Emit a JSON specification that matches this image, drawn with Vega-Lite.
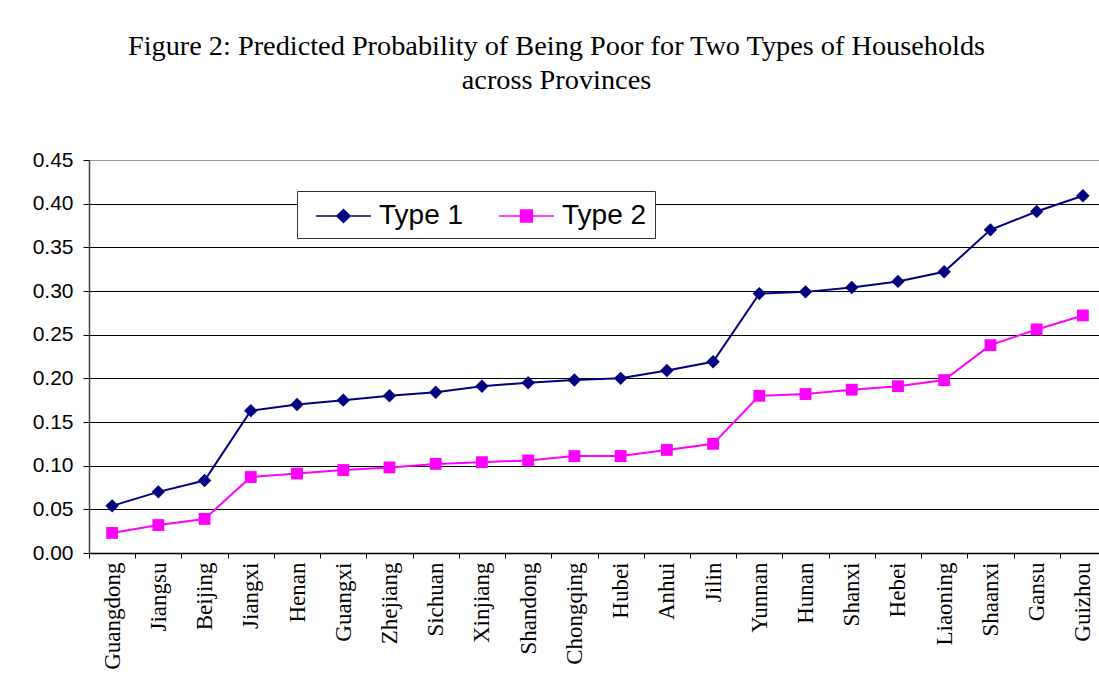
{
  "$schema": "https://vega.github.io/schema/vega-lite/v6.json",
  "autosize": {"type": "none"},
  "padding": {"left": 89, "top": 160, "right": 0, "bottom": 135},
  "width": 1017,
  "height": 393,
  "background": "white",
  "title": {
    "text": ["Figure 2: Predicted Probability of Being Poor for Two Types of Households", "across Provinces"],
    "font": "Liberation Serif",
    "fontSize": 28.3,
    "fontWeight": "normal",
    "color": "black",
    "lineHeight": 34,
    "anchor": "middle",
    "frame": "group",
    "dx": -41,
    "baseline": "alphabetic",
    "offset": 32
  },
  "data": {
    "values": [
      {"province": "Guangdong", "type": "Type 1", "p": 0.054},
      {"province": "Jiangsu", "type": "Type 1", "p": 0.070},
      {"province": "Beijing", "type": "Type 1", "p": 0.083},
      {"province": "Jiangxi", "type": "Type 1", "p": 0.163},
      {"province": "Henan", "type": "Type 1", "p": 0.170},
      {"province": "Guangxi", "type": "Type 1", "p": 0.175},
      {"province": "Zhejiang", "type": "Type 1", "p": 0.180},
      {"province": "Sichuan", "type": "Type 1", "p": 0.184},
      {"province": "Xinjiang", "type": "Type 1", "p": 0.191},
      {"province": "Shandong", "type": "Type 1", "p": 0.195},
      {"province": "Chongqing", "type": "Type 1", "p": 0.198},
      {"province": "Hubei", "type": "Type 1", "p": 0.200},
      {"province": "Anhui", "type": "Type 1", "p": 0.209},
      {"province": "Jilin", "type": "Type 1", "p": 0.219},
      {"province": "Yunnan", "type": "Type 1", "p": 0.297},
      {"province": "Hunan", "type": "Type 1", "p": 0.299},
      {"province": "Shanxi", "type": "Type 1", "p": 0.304},
      {"province": "Hebei", "type": "Type 1", "p": 0.311},
      {"province": "Liaoning", "type": "Type 1", "p": 0.322},
      {"province": "Shaanxi", "type": "Type 1", "p": 0.370},
      {"province": "Gansu", "type": "Type 1", "p": 0.391},
      {"province": "Guizhou", "type": "Type 1", "p": 0.409},
      {"province": "Guangdong", "type": "Type 2", "p": 0.023},
      {"province": "Jiangsu", "type": "Type 2", "p": 0.032},
      {"province": "Beijing", "type": "Type 2", "p": 0.039},
      {"province": "Jiangxi", "type": "Type 2", "p": 0.087},
      {"province": "Henan", "type": "Type 2", "p": 0.091},
      {"province": "Guangxi", "type": "Type 2", "p": 0.095},
      {"province": "Zhejiang", "type": "Type 2", "p": 0.098},
      {"province": "Sichuan", "type": "Type 2", "p": 0.102},
      {"province": "Xinjiang", "type": "Type 2", "p": 0.104},
      {"province": "Shandong", "type": "Type 2", "p": 0.106},
      {"province": "Chongqing", "type": "Type 2", "p": 0.111},
      {"province": "Hubei", "type": "Type 2", "p": 0.111},
      {"province": "Anhui", "type": "Type 2", "p": 0.118},
      {"province": "Jilin", "type": "Type 2", "p": 0.125},
      {"province": "Yunnan", "type": "Type 2", "p": 0.180},
      {"province": "Hunan", "type": "Type 2", "p": 0.182},
      {"province": "Shanxi", "type": "Type 2", "p": 0.187},
      {"province": "Hebei", "type": "Type 2", "p": 0.191},
      {"province": "Liaoning", "type": "Type 2", "p": 0.198},
      {"province": "Shaanxi", "type": "Type 2", "p": 0.238},
      {"province": "Gansu", "type": "Type 2", "p": 0.256},
      {"province": "Guizhou", "type": "Type 2", "p": 0.272}
    ]
  },
  "encoding": {
    "x": {
      "field": "province",
      "type": "nominal",
      "sort": null,
      "scale": {"paddingInner": 0, "paddingOuter": 0},
      "axis": {
        "title": null,
        "labelAngle": -90,
        "labelFont": "Liberation Serif",
        "labelFontSize": 23,
        "labelColor": "black",
        "labelPadding": 4,
        "tickBand": "extent",
        "tickSize": 5,
        "tickColor": "black",
        "domainColor": "black",
        "domainWidth": 1.5,
        "grid": false
      }
    },
    "y": {
      "field": "p",
      "type": "quantitative",
      "scale": {"domain": [0, 0.45], "nice": false},
      "axis": {
        "title": null,
        "values": [0, 0.05, 0.1, 0.15, 0.2, 0.25, 0.3, 0.35, 0.4, 0.45],
        "format": ".2f",
        "labelFont": "Liberation Sans",
        "labelFontSize": 21,
        "labelColor": "black",
        "labelPadding": 10,
        "tickSize": 6,
        "tickColor": "black",
        "domainColor": "#404040",
        "domainWidth": 1.5,
        "grid": true,
        "gridColor": {"condition": {"test": "datum.value > 0.449", "value": "#999999"}, "value": "black"},
        "gridWidth": 1.2,
        "gridOpacity": 1
      }
    },
    "color": {
      "field": "type",
      "type": "nominal",
      "scale": {"domain": ["Type 1", "Type 2"], "range": ["#000080", "#FF00FF"]},
      "legend": {
        "title": null,
        "orient": "none",
        "legendX": 208,
        "legendY": 31,
        "direction": "horizontal",
        "strokeColor": "#333333",
        "fillColor": "white",
        "padding": 8,
        "labelFont": "Liberation Sans",
        "labelFontSize": 28,
        "labelColor": "black",
        "symbolSize": 1024,
        "labelOffset": 40,
        "columnPadding": 24,
        "encode": {
          "symbols": {
            "update": {
              "shape": {"signal": "datum.value === 'Type 1' ? 'M-0.38,0H3.06M1.34,-0.41L1.75,0L1.34,0.41L0.93,0Z' : 'M-0.38,0H3.06M0.97,-0.37H1.71V0.37H0.97Z'"},
              "fill": {"signal": "scale('color', datum.value)"},
              "stroke": {"signal": "scale('color', datum.value)"},
              "strokeWidth": {"value": 1.5},
              "opacity": {"value": 1},
              "fillOpacity": {"value": 1},
              "strokeOpacity": {"value": 1}
            }
          }
        }
      }
    }
  },
  "layer": [
    {"mark": {"type": "line", "strokeWidth": 2}},
    {
      "transform": [{"filter": "datum.type === 'Type 1'"}],
      "mark": {"type": "point", "filled": true, "opacity": 1, "shape": "diamond", "size": 180}
    },
    {
      "transform": [{"filter": "datum.type === 'Type 2'"}],
      "mark": {"type": "point", "filled": true, "opacity": 1, "shape": "square", "size": 140}
    }
  ],
  "config": {
    "view": {"stroke": null}
  }
}
